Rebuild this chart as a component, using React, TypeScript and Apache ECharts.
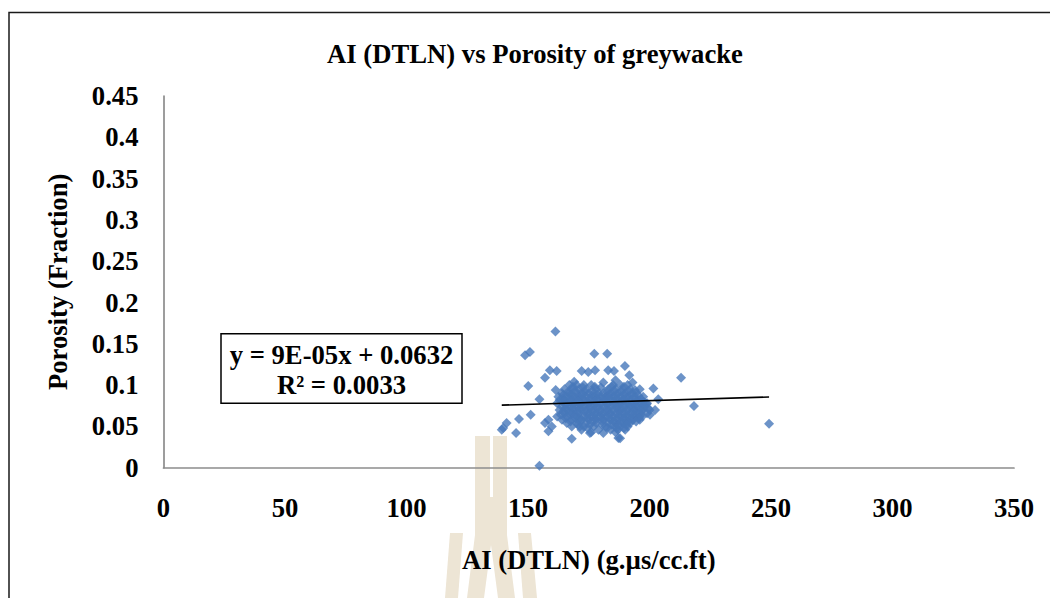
import React, { useEffect, useRef } from "react";
import * as echarts from "echarts";

const chartTitle = "AI (DTLN) vs Porosity of greywacke";
const xAxisName = "AI (DTLN) (g.µs/cc.ft)";
const yAxisName = "Porosity (Fraction)";
const equationLines = ["y = 9E-05x + 0.0632", "R² = 0.0033"];
const trendSlope = 0.00009;
const trendIntercept = 0.0632;

// Scattered points around the main cluster (AI, porosity)
const outlierPoints: [number, number][] = [
  [161.3, 0.165], [148.8, 0.136], [150.8, 0.14], [177.3, 0.138], [182.6, 0.138],
  [159, 0.118], [161.8, 0.117], [157, 0.109], [172.1, 0.117], [174.8, 0.116],
  [177.6, 0.118], [183, 0.118], [185.4, 0.117], [189.9, 0.123], [191.7, 0.112],
  [213, 0.109], [150.1, 0.099], [154.7, 0.083], [161.4, 0.094], [162.5, 0.086],
  [151.1, 0.064], [146.3, 0.059], [141.2, 0.054], [139.8, 0.048], [139.2, 0.046],
  [145.1, 0.042], [154.7, 0.0024], [168, 0.035], [158.4, 0.058], [157, 0.054],
  [158.4, 0.044], [159.8, 0.05], [171.4, 0.05], [175.5, 0.042], [181, 0.042],
  [187.2, 0.036], [201.6, 0.096], [194, 0.094], [197.4, 0.086], [203.6, 0.083],
  [198.8, 0.077], [218.3, 0.0747], [202.3, 0.07], [200.2, 0.064], [193.3, 0.058],
  [249.2, 0.0533], [187.9, 0.0356], [185.8, 0.05], [191.3, 0.056], [196, 0.062],
];

// Dense cluster points (AI, porosity)
const clusterPoints: [number, number][] = [
  [169, 0.104], [181, 0.103], [186, 0.106], [193, 0.103],
  [167, 0.1], [170, 0.1], [173, 0.1], [176, 0.1], [185, 0.1], [188, 0.1], [191, 0.1],
  [165, 0.095], [168, 0.095], [171, 0.095], [174, 0.095], [178, 0.095], [180, 0.097],
  [183, 0.095], [186, 0.095], [189, 0.095], [192, 0.095], [196, 0.095],
  [164, 0.09], [167, 0.09], [170, 0.09], [172, 0.09], [175, 0.09], [179, 0.09],
  [181, 0.09], [184, 0.09], [187, 0.09], [190, 0.09], [193, 0.09],
  [166, 0.086], [169, 0.086], [171, 0.086], [174, 0.086], [177, 0.086], [180, 0.086],
  [182, 0.086], [185, 0.086], [188, 0.086], [191, 0.086], [194, 0.086],
  [163, 0.082], [165, 0.082], [168, 0.082], [171, 0.082], [173, 0.082], [176, 0.082],
  [179, 0.082], [182, 0.082], [184, 0.082], [187, 0.082], [189, 0.082], [192, 0.082], [195, 0.082],
  [162, 0.078], [166, 0.078], [169, 0.078], [172, 0.078], [175, 0.078], [178, 0.078],
  [180, 0.078], [183, 0.078], [186, 0.078], [188, 0.078], [191, 0.078], [193, 0.078],
  [196, 0.078], [199, 0.078],
  [164, 0.074], [167, 0.074], [170, 0.074], [173, 0.074], [176, 0.074], [179, 0.074],
  [181, 0.074], [184, 0.074], [187, 0.074], [190, 0.074], [192, 0.074], [195, 0.074], [198, 0.074],
  [163, 0.07], [166, 0.07], [169, 0.07], [172, 0.07], [174, 0.07], [177, 0.07],
  [180, 0.07], [183, 0.07], [185, 0.07], [188, 0.07], [191, 0.07], [194, 0.07], [197, 0.07], [200, 0.07],
  [165, 0.066], [168, 0.066], [171, 0.066], [175, 0.066], [178, 0.066], [181, 0.066],
  [184, 0.066], [186, 0.066], [189, 0.066], [192, 0.066], [195, 0.066], [199, 0.066],
  [162, 0.062], [166, 0.062], [170, 0.062], [173, 0.062], [176, 0.062], [179, 0.062],
  [182, 0.062], [185, 0.062], [188, 0.062], [191, 0.062], [194, 0.062], [197, 0.062],
  [164, 0.058], [168, 0.058], [172, 0.058], [175, 0.058], [178, 0.058], [181, 0.058],
  [184, 0.058], [187, 0.058], [190, 0.058], [193, 0.058], [196, 0.058],
  [166, 0.054], [170, 0.054], [174, 0.054], [178, 0.054], [183, 0.054], [186, 0.054],
  [189, 0.054], [192, 0.054],
  [168, 0.05], [173, 0.05], [177, 0.05], [182, 0.05], [188, 0.05], [191, 0.05],
  [172, 0.046], [179, 0.046], [184, 0.046], [187, 0.046], [190, 0.046],
  [176, 0.043], [186, 0.043],
];

// Extra overlapping points that fill the solid core of the cluster
const corePoints: [number, number][] = [
  [168.5, 0.098], [172.5, 0.097], [177.5, 0.098], [184.5, 0.098], [189.5, 0.098],
  [166.5, 0.092], [169.5, 0.093], [173.5, 0.092], [176.5, 0.093], [182.5, 0.092],
  [185.5, 0.093], [188.5, 0.092], [191.5, 0.093], [194.5, 0.091],
  [164.5, 0.088], [167.5, 0.088], [172.5, 0.088], [176.5, 0.088], [178.5, 0.088],
  [183.5, 0.088], [186.5, 0.088], [189.5, 0.088], [192.5, 0.088], [195.5, 0.087],
  [164.5, 0.084], [167.5, 0.084], [169.5, 0.084], [172.5, 0.084], [175.5, 0.084],
  [178.5, 0.084], [181.5, 0.084], [183.5, 0.084], [186.5, 0.084], [190.5, 0.084],
  [193.5, 0.084], [196.5, 0.083],
  [164.5, 0.08], [167.5, 0.08], [170.5, 0.08], [174.5, 0.08], [177.5, 0.08],
  [181.5, 0.08], [185.5, 0.08], [188.5, 0.08], [190.5, 0.08], [194.5, 0.08], [197.5, 0.08],
  [165.5, 0.076], [168.5, 0.076], [171.5, 0.076], [174.5, 0.076], [177.5, 0.076],
  [182.5, 0.076], [185.5, 0.076], [189.5, 0.076], [192.5, 0.076], [194.5, 0.076], [197.5, 0.076],
  [165.5, 0.072], [168.5, 0.072], [171.5, 0.072], [175.5, 0.072], [178.5, 0.072],
  [182.5, 0.072], [186.5, 0.072], [188.5, 0.072], [193.5, 0.072], [196.5, 0.072], [199.5, 0.072],
  [164.5, 0.068], [167.5, 0.068], [170.5, 0.068], [173.5, 0.068], [176.5, 0.068],
  [179.5, 0.068], [182.5, 0.068], [187.5, 0.068], [190.5, 0.068], [193.5, 0.068], [196.5, 0.068],
  [163.5, 0.064], [167.5, 0.064], [169.5, 0.064], [174.5, 0.064], [177.5, 0.064],
  [180.5, 0.064], [183.5, 0.064], [187.5, 0.064], [190.5, 0.064], [193.5, 0.064], [196.5, 0.065],
  [165.5, 0.06], [169.5, 0.06], [171.5, 0.06], [174.5, 0.06], [177.5, 0.06],
  [180.5, 0.06], [183.5, 0.06], [186.5, 0.06], [189.5, 0.06], [192.5, 0.06], [195.5, 0.06],
  [167.5, 0.056], [171.5, 0.056], [176.5, 0.056], [180.5, 0.056], [185.5, 0.056],
  [188.5, 0.056], [190.5, 0.056], [194.5, 0.056],
  [170.5, 0.052], [175.5, 0.052], [180.5, 0.052], [184.5, 0.052], [187.5, 0.052], [190.5, 0.052],
  [174.5, 0.048], [182.5, 0.048], [186.5, 0.048], [189.5, 0.048],
];

const xTicks = { min: 0, max: 350, interval: 50 };
const yTicks = { min: 0, max: 0.45, interval: 0.05 };

const FONT = '"Liberation Serif", "Times New Roman", serif';
const FS = 26.67;
const MARKER_COLOR = "#4778BA";
const WATERMARK = "#EDE5D5";

export default function App() {
  const ref = useRef<HTMLDivElement>(null);

  useEffect(() => {
    if (!ref.current) return;
    const chart = echarts.init(ref.current, undefined, { renderer: "svg" });

    const allPoints = [...outlierPoints, ...clusterPoints, ...corePoints];
    const xs = allPoints.map((p) => p[0]);
    const xMin = Math.min(...xs);
    const xMax = Math.max(...xs);
    const trend = [
      [xMin, trendSlope * xMin + trendIntercept],
      [xMax, trendSlope * xMax + trendIntercept],
    ];

    const wm = (points: number[][]) => ({
      type: "polygon",
      z: -10,
      silent: true,
      shape: { points },
      style: { fill: WATERMARK },
    });

    chart.setOption({
      animation: false,
      backgroundColor: "#ffffff",
      title: {
        text: chartTitle,
        left: 530,
        top: 35,
        textAlign: "center",
        textStyle: { fontFamily: FONT, fontWeight: "bold", fontSize: FS, color: "#000" },
      },
      grid: { left: 163.5, right: 36, top: 96, bottom: 130.3, containLabel: false },
      xAxis: {
        type: "value",
        min: xTicks.min,
        max: xTicks.max,
        interval: xTicks.interval,
        name: xAxisName,
        nameLocation: "middle",
        nameGap: 79,
        nameTextStyle: { fontFamily: FONT, fontWeight: "bold", fontSize: FS, color: "#000" },
        axisLine: { show: true, lineStyle: { color: "#8C8C8C", width: 1.7 } },
        axisTick: { show: false },
        splitLine: { show: false },
        axisLabel: { margin: 27, fontFamily: FONT, fontWeight: "bold", fontSize: FS, color: "#000" },
      },
      yAxis: {
        type: "value",
        min: yTicks.min,
        max: yTicks.max,
        interval: yTicks.interval,
        name: yAxisName,
        nameLocation: "middle",
        nameGap: 92,
        nameTextStyle: { fontFamily: FONT, fontWeight: "bold", fontSize: FS, color: "#000" },
        axisLine: { show: true, lineStyle: { color: "#8C8C8C", width: 1.7 } },
        axisTick: { show: false },
        splitLine: { show: false },
        axisLabel: {
          margin: 25,
          fontFamily: FONT,
          fontWeight: "bold",
          fontSize: FS,
          color: "#000",
          formatter: (v: number) => String(parseFloat(v.toFixed(2))),
        },
      },
      series: [
        {
          type: "scatter",
          data: allPoints,
          symbol: "diamond",
          symbolSize: 10,
          itemStyle: { color: MARKER_COLOR },
          z: 3,
        },
        {
          type: "line",
          data: trend,
          symbol: "none",
          lineStyle: { color: "#000", width: 1.6 },
          z: 4,
        },
      ],
      graphic: [
        {
          type: "rect",
          z: 20,
          shape: { x: 9, y: 12.5, width: 1200, height: 800 },
          style: { fill: "none", stroke: "#1a1a1a", lineWidth: 1.5 },
          silent: true,
        },
        wm([[475, 436], [490, 436], [490, 497], [493, 497], [493, 436], [507, 436], [507, 535], [515, 598], [498, 598], [491, 545], [484, 598], [467, 598], [475, 535]]),
        wm([[450, 533], [463, 533], [458, 598], [445, 598]]),
        wm([[518, 533], [531, 533], [537, 598], [523, 598]]),
        {
          type: "group",
          z: 30,
          children: [
            {
              type: "rect",
              shape: { x: 221, y: 333.7, width: 241, height: 69.6 },
              style: { fill: "#fff", stroke: "#000", lineWidth: 1.5 },
            },
            {
              type: "text",
              x: 341.5,
              y: 355,
              style: {
                text: equationLines[0],
                fontFamily: FONT,
                fontWeight: "bold",
                fontSize: FS,
                fill: "#000",
                align: "center",
                verticalAlign: "middle",
              },
            },
            {
              type: "text",
              x: 341.5,
              y: 385,
              style: {
                text: equationLines[1],
                fontFamily: FONT,
                fontWeight: "bold",
                fontSize: FS,
                fill: "#000",
                align: "center",
                verticalAlign: "middle",
              },
            },
          ],
        },
      ],
    });

    return () => chart.dispose();
  }, []);

  return (
    <div
      ref={ref}
      style={{ position: "absolute", left: 0, top: 0, width: 1050, height: 598, background: "#fff" }}
    />
  );
}
